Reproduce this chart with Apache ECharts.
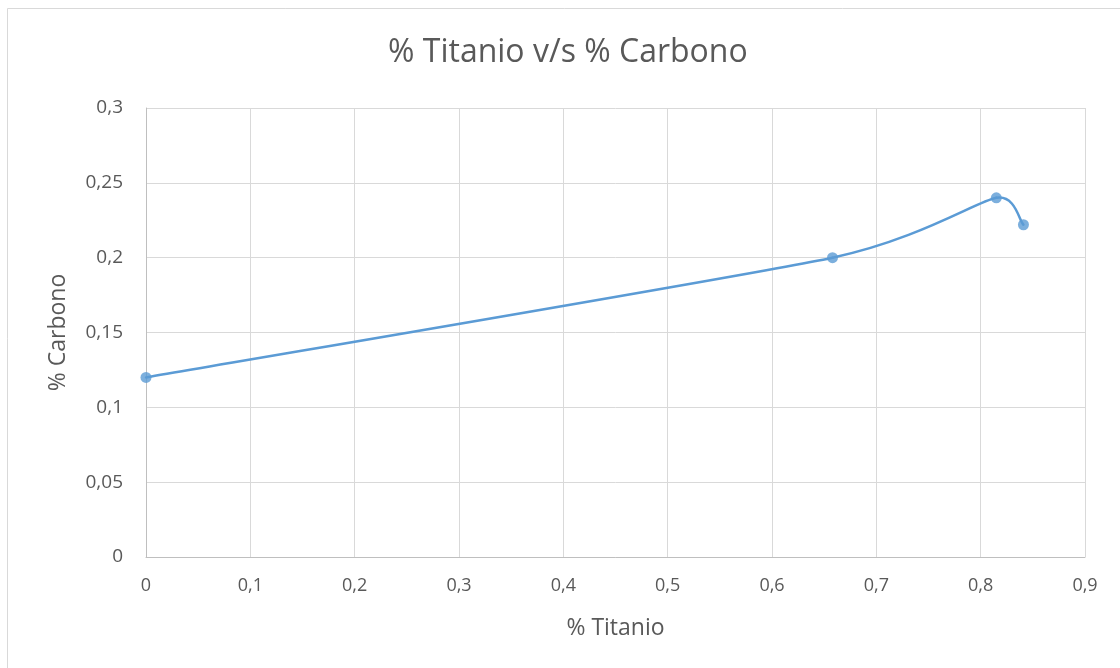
<!DOCTYPE html>
<html>
<head>
<meta charset="utf-8">
<script src="https://cdn.jsdelivr.net/npm/echarts@6/dist/echarts.min.js"></script>
<style>
html,body{margin:0;padding:0;background:#fff;}
#c{width:1120px;height:668px;}
</style>
</head>
<body>
<div id="c"></div>
<script>
const titanio = [0, 0.658, 0.815, 0.841];
const carbono = [0.12, 0.2, 0.24, 0.222];
const chartTitle = '% Titanio v/s % Carbono';
const xName = '% Titanio';
const yName = '% Carbono';

const fontFam = '"Open Sans", "Noto Sans", sans-serif';
const textColor = '#595959';
const lineColor = '#5b9bd5';
const fmt = v => String(+v.toFixed(3)).replace('.', ',');
const points = titanio.map((x, i) => [x, carbono[i]]);

function dist(a, b) { return Math.hypot(b[0] - a[0], b[1] - a[1]); }
function handle(a, b, maxLen) {
  let hx = (b[0] - a[0]) / 6, hy = (b[1] - a[1]) / 6;
  const len = Math.hypot(hx, hy);
  if (len > maxLen && len > 0) { hx *= maxLen / len; hy *= maxLen / len; }
  return [hx, hy];
}

function renderCurve(params, api) {
  if (params.dataIndex !== 0) return;
  const p = points.map(d => api.coord(d));
  const n = p.length;
  const children = [];
  for (let i = 0; i < n - 1; i++) {
    const p0 = p[Math.max(i - 1, 0)], p1 = p[i], p2 = p[i + 1], p3 = p[Math.min(i + 2, n - 1)];
    const d12 = dist(p1, p2);
    const d01 = i > 0 ? dist(p0, p1) : d12;
    const d23 = i + 2 < n ? dist(p2, p3) : d12;
    const h1 = handle(p0, p2, Math.min(d12, d01) / 2);
    const h2 = handle(p1, p3, Math.min(d12, d23) / 2);
    children.push({
      type: 'bezierCurve',
      shape: {
        x1: p1[0], y1: p1[1], x2: p2[0], y2: p2[1],
        cpx1: p1[0] + h1[0], cpy1: p1[1] + h1[1],
        cpx2: p2[0] - h2[0], cpy2: p2[1] - h2[1]
      },
      style: {fill: null, stroke: lineColor, lineWidth: 2.5, lineCap: 'round'}
    });
  }
  return {type: 'group', children};
}

const chart = echarts.init(document.getElementById('c'));
chart.setOption({
  backgroundColor: '#fff',
  animation: false,
  graphic: [{
    type: 'rect', shape: {x: 7.5, y: 8.5, width: 1200, height: 700},
    style: {fill: 'none', stroke: '#d9d9d9', lineWidth: 1}, silent: true
  }],
  title: {
    text: chartTitle, left: 383, top: 32,
    textStyle: {fontFamily: fontFam, fontSize: 32, fontWeight: 'normal', color: textColor}
  },
  grid: {left: 146, right: 35, top: 108, bottom: 111},
  xAxis: {
    type: 'value', min: 0, max: 0.9, interval: 0.1,
    name: xName, nameLocation: 'middle', nameGap: 60,
    nameTextStyle: {fontFamily: fontFam, fontSize: 23, color: textColor},
    axisLine: {show: true, lineStyle: {color: '#bfbfbf'}},
    axisTick: {show: false},
    splitLine: {show: true, lineStyle: {color: '#d9d9d9'}},
    axisLabel: {formatter: fmt, fontFamily: fontFam, fontSize: 18, color: textColor, margin: 20}
  },
  yAxis: {
    type: 'value', min: 0, max: 0.3, interval: 0.05,
    name: yName, nameLocation: 'middle', nameGap: 76, nameRotate: 90,
    nameTextStyle: {fontFamily: fontFam, fontSize: 23, color: textColor},
    axisLine: {show: true, lineStyle: {color: '#bfbfbf'}},
    axisTick: {show: false},
    splitLine: {show: true, lineStyle: {color: '#d9d9d9'}},
    axisLabel: {formatter: fmt, fontFamily: fontFam, fontSize: 19, color: textColor, margin: 23}
  },
  series: [{
    type: 'custom',
    data: [[titanio[0], carbono[0]]],
    renderItem: renderCurve,
    silent: true,
    z: 2
  }, {
    type: 'scatter',
    data: points,
    symbol: 'circle', symbolSize: 11,
    itemStyle: {color: lineColor},
    z: 3
  }]
});
</script>
</body>
</html>
